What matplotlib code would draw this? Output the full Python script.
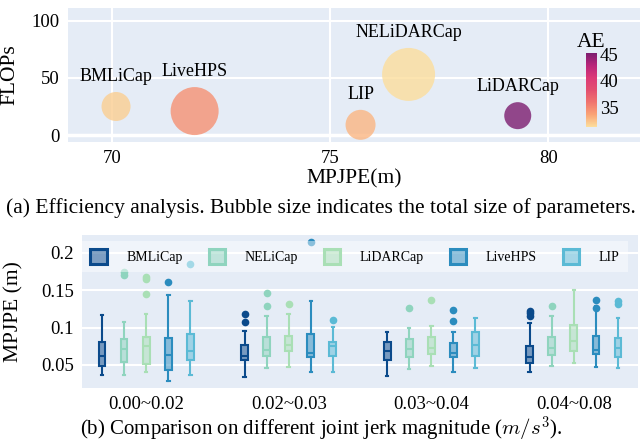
import matplotlib
matplotlib.use('Agg')
import matplotlib.pyplot as plt
from matplotlib.colors import LinearSegmentedColormap, to_rgba
from matplotlib.patches import Patch

plt.rcParams['font.family'] = ['Liberation Serif', 'DejaVu Serif']
plt.rcParams['mathtext.fontset'] = 'cm'

# ---- (a) efficiency bubbles ----
methods = ['BMLiCap', 'LiveHPS', 'LIP', 'NELiDARCap', 'LiDARCap']
mpjpe = [70.1, 71.9, 75.7, 76.8, 79.3]
flops = [25, 21, 9, 53, 17]
params = [29, 48, 30, 53, 27]   # bubble diameter (relative)
ae = [32.1, 34.6, 33.0, 31.4, 45.2]

# ---- (b) boxes per jerk bin ----
bins = ['0.00~0.02', '0.02~0.03', '0.03~0.04', '0.04~0.08']
models = ['BMLiCap', 'NELiCap', 'LiDARCap', 'LiveHPS', 'LIP']
colors = ['#0b4a8b', '#8fd4be', '#a9dfb5', '#2b8cbe', '#5bbad5']
# [whislo, q1, med, q3, whishi] for each model, each bin
box_stats = {
    'BMLiCap':  [[0.036, 0.048, 0.062, 0.080, 0.117],
                 [0.034, 0.056, 0.062, 0.077, 0.096],
                 [0.035, 0.056, 0.069, 0.080, 0.094],
                 [0.040, 0.053, 0.060, 0.075, 0.106]],
    'NELiCap':  [[0.036, 0.054, 0.071, 0.085, 0.107],
                 [0.046, 0.062, 0.070, 0.088, 0.116],
                 [0.044, 0.060, 0.071, 0.085, 0.099],
                 [0.049, 0.063, 0.073, 0.088, 0.116]],
    'LiDARCap': [[0.040, 0.051, 0.075, 0.087, 0.118],
                 [0.047, 0.068, 0.076, 0.089, 0.118],
                 [0.048, 0.065, 0.073, 0.088, 0.102],
                 [0.052, 0.068, 0.082, 0.103, 0.150]],
    'LiveHPS':  [[0.029, 0.043, 0.063, 0.086, 0.143],
                 [0.041, 0.060, 0.066, 0.091, 0.136],
                 [0.041, 0.060, 0.066, 0.079, 0.094],
                 [0.047, 0.065, 0.070, 0.089, 0.129]],
    'LIP':      [[0.036, 0.056, 0.069, 0.091, 0.135],
                 [0.040, 0.062, 0.075, 0.080, 0.101],
                 [0.046, 0.062, 0.077, 0.094, 0.113],
                 [0.046, 0.061, 0.072, 0.086, 0.113]],
}
outliers = {
    'BMLiCap':  [[], [0.1175, 0.107], [], [0.122, 0.119, 0.116]],
    'NELiCap':  [[0.175, 0.170], [0.146, 0.129], [0.126], [0.129]],
    'LiDARCap': [[0.168, 0.165, 0.145], [0.132], [0.137], []],
    'LiveHPS':  [[0.161], [0.214], [0.124, 0.109], [0.137, 0.126]],
    'LIP':      [[0.185], [0.110], [], [0.135, 0.131]],
}

bg = '#e5ecf6'
fig = plt.figure(figsize=(6.42, 4.45), dpi=100)

# ---------------- top panel ----------------
ax1 = fig.add_axes([68/642, 1-142/445, 572/642, 134/445])
ax1.set_facecolor(bg)
cmap = LinearSegmentedColormap.from_list(
    'sunsetdark', ['#fcde9c', '#faa476', '#f0746e', '#e34f6f',
                   '#dc3977', '#b9257a', '#7c1d6f'])
sizes = [(d*0.72)**2 for d in params]
sc = ax1.scatter(mpjpe, flops, s=sizes, c=ae, cmap=cmap, vmin=min(ae), vmax=max(ae),
                 alpha=0.8, edgecolors='none', zorder=3)
for m, x, y, d in zip(methods, mpjpe, flops, params):
    ax1.annotate(m, (x, y), xytext=(0, d*0.72/2 + 5), textcoords='offset points',
                 ha='center', va='bottom', fontsize=13)
ax1.set_xlim(69.0, 82.1)
ax1.set_ylim(-6, 111)
ax1.set_xticks([70, 75, 80])
ax1.set_yticks([0, 50, 100])
ax1.grid(True, color='white', lw=1.5, zorder=0)
ax1.axhline(0, color='white', lw=2.5, zorder=1)
ax1.set_axisbelow(True)
ax1.tick_params(length=0, labelsize=13.5, pad=6)
for sp in ax1.spines.values():
    sp.set_visible(False)
ax1.set_xlabel('MPJPE(m)', fontsize=15.5)
ax1.xaxis.set_label_coords(0.5, -0.2)
ax1.set_ylabel('FLOPs', fontsize=15.5)
ax1.yaxis.set_label_coords(-0.085, 0.5)

cax = fig.add_axes([586/642, 1-127/445, 11/642, 74/445])
cb = fig.colorbar(sc, cax=cax)
cb.solids.set_alpha(1)
cb.outline.set_visible(False)
cb.set_ticks([35, 40, 45])
cax.tick_params(length=0, labelsize=13.5, pad=2)
cax.set_title('AE', fontsize=15.5, pad=4)

fig.text(0.5, 1-208/445, '(a) Efficiency analysis. Bubble size indicates the total size of parameters.',
         ha='center', va='center', fontsize=15.5)

# ---------------- bottom panel ----------------
ax2 = fig.add_axes([82/642, 1-388/445, 556/642, 153/445])
ax2.set_facecolor(bg)
offs = [-0.31, -0.155, 0, 0.155, 0.31]
for i, m in enumerate(models):
    c = colors[i]
    stats = []
    for j in range(len(bins)):
        lo, q1, med, q3, hi = box_stats[m][j]
        stats.append(dict(whislo=lo, q1=q1, med=med, q3=q3, whishi=hi,
                          fliers=outliers[m][j]))
    ax2.bxp(stats, positions=[j + offs[i] for j in range(len(bins))],
            widths=0.048, patch_artist=True, showfliers=True, capwidths=0.018,
            boxprops=dict(facecolor=to_rgba(c, 0.5), edgecolor=c, lw=1.5),
            medianprops=dict(color=c, lw=1.5),
            whiskerprops=dict(color=c, lw=1.5),
            capprops=dict(color=c, lw=1.5),
            flierprops=dict(marker='o', markerfacecolor=c, markeredgecolor='none',
                            markersize=5.5),
            zorder=3)
ax2.set_xlim(-0.45, 3.45)
ax2.set_ylim(0.019, 0.224)
ax2.set_xticks(range(len(bins)))
ax2.set_xticklabels(bins)
ax2.set_yticks([0.05, 0.1, 0.15, 0.2])
ax2.set_yticklabels(['0.05', '0.1', '0.15', '0.2'])
ax2.grid(True, axis='y', color='white', lw=1.5, zorder=0)
ax2.set_axisbelow(True)
ax2.tick_params(length=0, labelsize=13.5, pad=6)
for sp in ax2.spines.values():
    sp.set_visible(False)
ax2.set_ylabel('MPJPE (m)', fontsize=15.5)
ax2.yaxis.set_label_coords(-0.105, 0.5)

handles = [Patch(facecolor=to_rgba(c, 0.5), edgecolor=c, lw=2.2) for c in colors]
leg = ax2.legend(handles, models, ncol=5, loc='lower left', mode='expand',
                 bbox_to_anchor=(0.0, 0.755, 0.982, 0.235), borderaxespad=0,
                 fontsize=10, handlelength=1.2, handleheight=1.2,
                 handletextpad=1.4, frameon=True, fancybox=False,
                 borderpad=0.6)
leg.get_frame().set_facecolor('white')
leg.get_frame().set_alpha(0.45)
leg.get_frame().set_edgecolor('none')

fig.text(0.5, 1-429/445, r'(b) Comparison on different joint jerk magnitude ($m/s^3$).',
         ha='center', va='center', fontsize=15)

fig.savefig('out.png', dpi=100)
